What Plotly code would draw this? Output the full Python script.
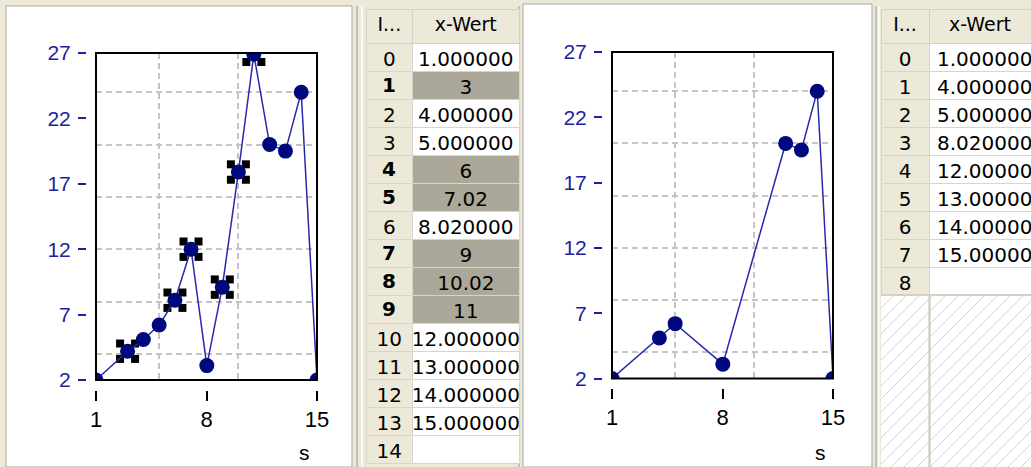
import plotly.graph_objects as go

W, H = 1031, 467

# ---------------- data ----------------
x_all = [1, 3, 4, 5, 6, 7.02, 8.02, 9, 10.02, 11, 12, 13, 14, 15]
y_all = [2, 4.2, 5.1, 6.2, 8.1, 12, 3.1, 9.1, 17.9, 26.9, 20, 19.5, 24, 2]
selected = [1, 4, 5, 7, 8, 9]          # highlighted rows in the left table
x_kept = [x for i, x in enumerate(x_all) if i not in selected]
y_kept = [y for i, y in enumerate(y_all) if i not in selected]

y_ticks = [2, 7, 12, 17, 22, 27]
y_grid = [4, 8, 12, 16, 20, 24]
x_ticks = [1, 8, 15]
x_grid = [5, 10]
header_labels = ["I...", "x-Wert"]
axis_label = "s"

# ---------------- styles ----------------
NAVY_LINE = "#2828AA"
NAVY_MARK = "#00087E"
TICK_BLUE = "#1E1E9E"
BEIGE = "#ECE9D8"
SEL_GRAY = "#ACA899"
GRID = "#C4C4C4"
TABLE_TOP, HEADER_H, ROW_H = 9, 34, 28
TFONT = 20


def px(x):
    return x / W


def py(y):
    return 1 - y / H


fig = go.Figure()

charts = [
    dict(xa="x", ya="y", box=(96, 317, 53, 380), yaxpos=86, xaxpos=390, label_x=304,
         xs=x_all, ys=y_all, sel=selected),
    dict(xa="x2", ya="y2", box=(612, 833, 52, 378.5), yaxpos=602, xaxpos=388, label_x=820,
         xs=x_kept, ys=y_kept, sel=[]),
]

layout_axes = {}
for k, c in enumerate(charts):
    x0, x1, y0, y1 = c["box"]
    xr, yr = [1, 15], [2, 27]
    if c["sel"]:
        dx = 7.5 * (xr[1] - xr[0]) / (x1 - x0)
        dy = 7.7 * (yr[1] - yr[0]) / (y1 - y0)
        hx, hy = [], []
        for i in c["sel"]:
            for sx in (-1, 1):
                for sy in (-1, 1):
                    hx.append(c["xs"][i] + sx * dx)
                    hy.append(c["ys"][i] + sy * dy)
        fig.add_trace(go.Scatter(x=hx, y=hy, mode="markers", xaxis=c["xa"], yaxis=c["ya"],
                                 marker=dict(symbol="square", size=8, color="black"),
                                 cliponaxis=False, showlegend=False, hoverinfo="skip"))
    fig.add_trace(go.Scatter(x=c["xs"], y=c["ys"], mode="lines+markers",
                             xaxis=c["xa"], yaxis=c["ya"],
                             line=dict(color=NAVY_LINE, width=1.5),
                             marker=dict(symbol="circle", size=15, color=NAVY_MARK),
                             cliponaxis=True, showlegend=False))
    sfx = "" if k == 0 else str(k + 1)
    layout_axes["xaxis" + sfx] = dict(
        domain=[px(x0), px(x1)], anchor="free", position=py(c["xaxpos"]),
        range=xr, tickmode="array", tickvals=x_ticks, ticktext=[str(t) for t in x_ticks],
        ticks="outside", ticklen=10, tickwidth=1.5, tickcolor="black",
        tickfont=dict(family="Liberation Sans", size=22, color="black"),
        showline=False, showgrid=False, zeroline=False, automargin=False,
        minor=dict(tickmode="array", tickvals=x_grid, showgrid=True, gridcolor=GRID,
                   griddash="6px,4px", gridwidth=1.5, ticks=""),
    )
    layout_axes["yaxis" + sfx] = dict(
        domain=[py(y1), py(y0)], anchor="free", position=px(c["yaxpos"]),
        range=yr, tickmode="array", tickvals=y_ticks, ticktext=[str(t) for t in y_ticks],
        ticks="outside", ticklen=8, tickwidth=1.5, tickcolor=TICK_BLUE, ticklabelstandoff=3,
        tickfont=dict(family="Liberation Sans", size=21, color=TICK_BLUE),
        showline=False, showgrid=False, zeroline=False, automargin=False,
        minor=dict(tickmode="array", tickvals=y_grid, showgrid=True, gridcolor=GRID,
                   griddash="6px,4px", gridwidth=1.5, ticks=""),
    )

# ---------------- tables ----------------
def fmt(v, sel):
    return f"{v:g}" if sel else f"{v:.6f}"


annotations = []

n_left = len(x_all) + 1
idx_l = ["" if i in selected else str(i) for i in range(n_left)]
val_l = [fmt(x_all[i], i in selected) if i < len(x_all) else "" for i in range(n_left)]
fill_l = [SEL_GRAY if i in selected else "white" for i in range(n_left)]
lt_x0, lt_x1, lt_w = 366, 520, [46, 105]
fig.add_trace(go.Table(
    domain=dict(x=[px(lt_x0), px(lt_x1)], y=[0, py(TABLE_TOP)]),
    columnwidth=lt_w,
    header=dict(values=header_labels, height=HEADER_H, fill_color=BEIGE, line=dict(color="#D4D0C8", width=1),
                font=dict(family="DejaVu Sans", size=19, color="black"), align="center"),
    cells=dict(values=[idx_l, val_l], height=ROW_H,
               fill_color=[[BEIGE] * n_left, fill_l], line=dict(color="#D8D5CB", width=1),
               font=dict(family="DejaVu Sans", size=TFONT, color="black"),
               align=["center", "center"]),
))
idx_cx = lt_x0 + (lt_x1 - lt_x0) * lt_w[0] / sum(lt_w) / 2
for i in selected:
    cy = TABLE_TOP + HEADER_H + ROW_H * i + ROW_H / 2
    annotations.append(dict(text=f"<b>{i}</b>", xref="paper", yref="paper", x=px(idx_cx), y=py(cy),
                            showarrow=False, xanchor="center", yanchor="middle",
                            font=dict(family="DejaVu Sans", size=TFONT, color="black")))

n_right = len(x_kept) + 1
idx_r = [str(i) for i in range(n_right)]
val_r = [fmt(x_kept[i], False) if i < len(x_kept) else "" for i in range(n_right)]
fig.add_trace(go.Table(
    domain=dict(x=[px(881), 1.0], y=[0, py(TABLE_TOP)]),
    columnwidth=[48, 102],
    header=dict(values=header_labels, height=HEADER_H, fill_color=BEIGE, line=dict(color="#D4D0C8", width=1),
                font=dict(family="DejaVu Sans", size=19, color="black"), align="center"),
    cells=dict(values=[idx_r, val_r], height=ROW_H,
               fill_color=[[BEIGE] * n_right, ["white"] * n_right], line=dict(color="#D8D5CB", width=1),
               font=dict(family="DejaVu Sans", size=TFONT, color="black"), align=["center", "left"]),
))

# ---------------- decoration shapes ----------------
shapes = []
for (a, b, t) in [(6, 352, 6), (523, 872, 4)]:
    shapes.append(dict(type="rect", xref="paper", yref="paper", x0=px(a), x1=px(b), y0=0, y1=py(t),
                       fillcolor="white", line=dict(color="#A8A6A0", width=1), layer="below"))
for xx, col in [(357, "#B8B5AA"), (362, "white"), (519, "#B8B5AA"), (876, "#B8B5AA"), (879, "white")]:
    shapes.append(dict(type="line", xref="paper", yref="paper", x0=px(xx), x1=px(xx), y0=0, y1=py(6),
                       line=dict(color=col, width=1.5), layer="below"))
for c in charts:
    shapes.append(dict(type="rect", xref=c["xa"] + " domain", yref=c["ya"] + " domain",
                       x0=0, x1=1, y0=0, y1=1, line=dict(color="black", width=2), layer="above"))

hx0, hx1 = 881, 1031
hy0, hy1 = TABLE_TOP + HEADER_H + ROW_H * n_right, 467
path = []
step = 13
k = hx0 + hy0
while k < hx1 + hy1:
    xa = max(hx0, k - hy1)
    xb = min(hx1, k - hy0)
    if xb > xa:
        path.append(f"M{px(xa)},{py(k - xa)}L{px(xb)},{py(k - xb)}")
    k += step
shapes.append(dict(type="rect", xref="paper", yref="paper", x0=px(hx0), x1=1, y0=0, y1=py(hy0),
                   fillcolor="white", line=dict(width=0), layer="below"))
shapes.append(dict(type="path", xref="paper", yref="paper", path="".join(path),
                   line=dict(color="#D2D2D2", width=1), layer="above"))
shapes.append(dict(type="line", xref="paper", yref="paper", x0=px(929.5), x1=px(929.5), y0=0, y1=py(hy0),
                   line=dict(color="#D4D0C8", width=2.5), layer="above"))
shapes.append(dict(type="line", xref="paper", yref="paper", x0=px(hx0), x1=1, y0=py(hy0), y1=py(hy0),
                   line=dict(color="#D4D0C8", width=2), layer="above"))

annotations += [dict(text=axis_label, xref="paper", yref="paper", x=px(c["label_x"]), y=py(452),
                     showarrow=False, xanchor="center", yanchor="middle",
                     font=dict(family="Liberation Sans", size=21, color="black")) for c in charts]

fig.update_layout(
    width=W, height=H, margin=dict(l=0, r=0, t=0, b=0, pad=0, autoexpand=False),
    paper_bgcolor=BEIGE, plot_bgcolor="rgba(0,0,0,0)",
    shapes=shapes, annotations=annotations, showlegend=False,
    **layout_axes,
)

fig.write_html("out.html", config={"displayModeBar": False},
               post_script="document.body.style.margin='0px';document.body.style.overflow='hidden';")
